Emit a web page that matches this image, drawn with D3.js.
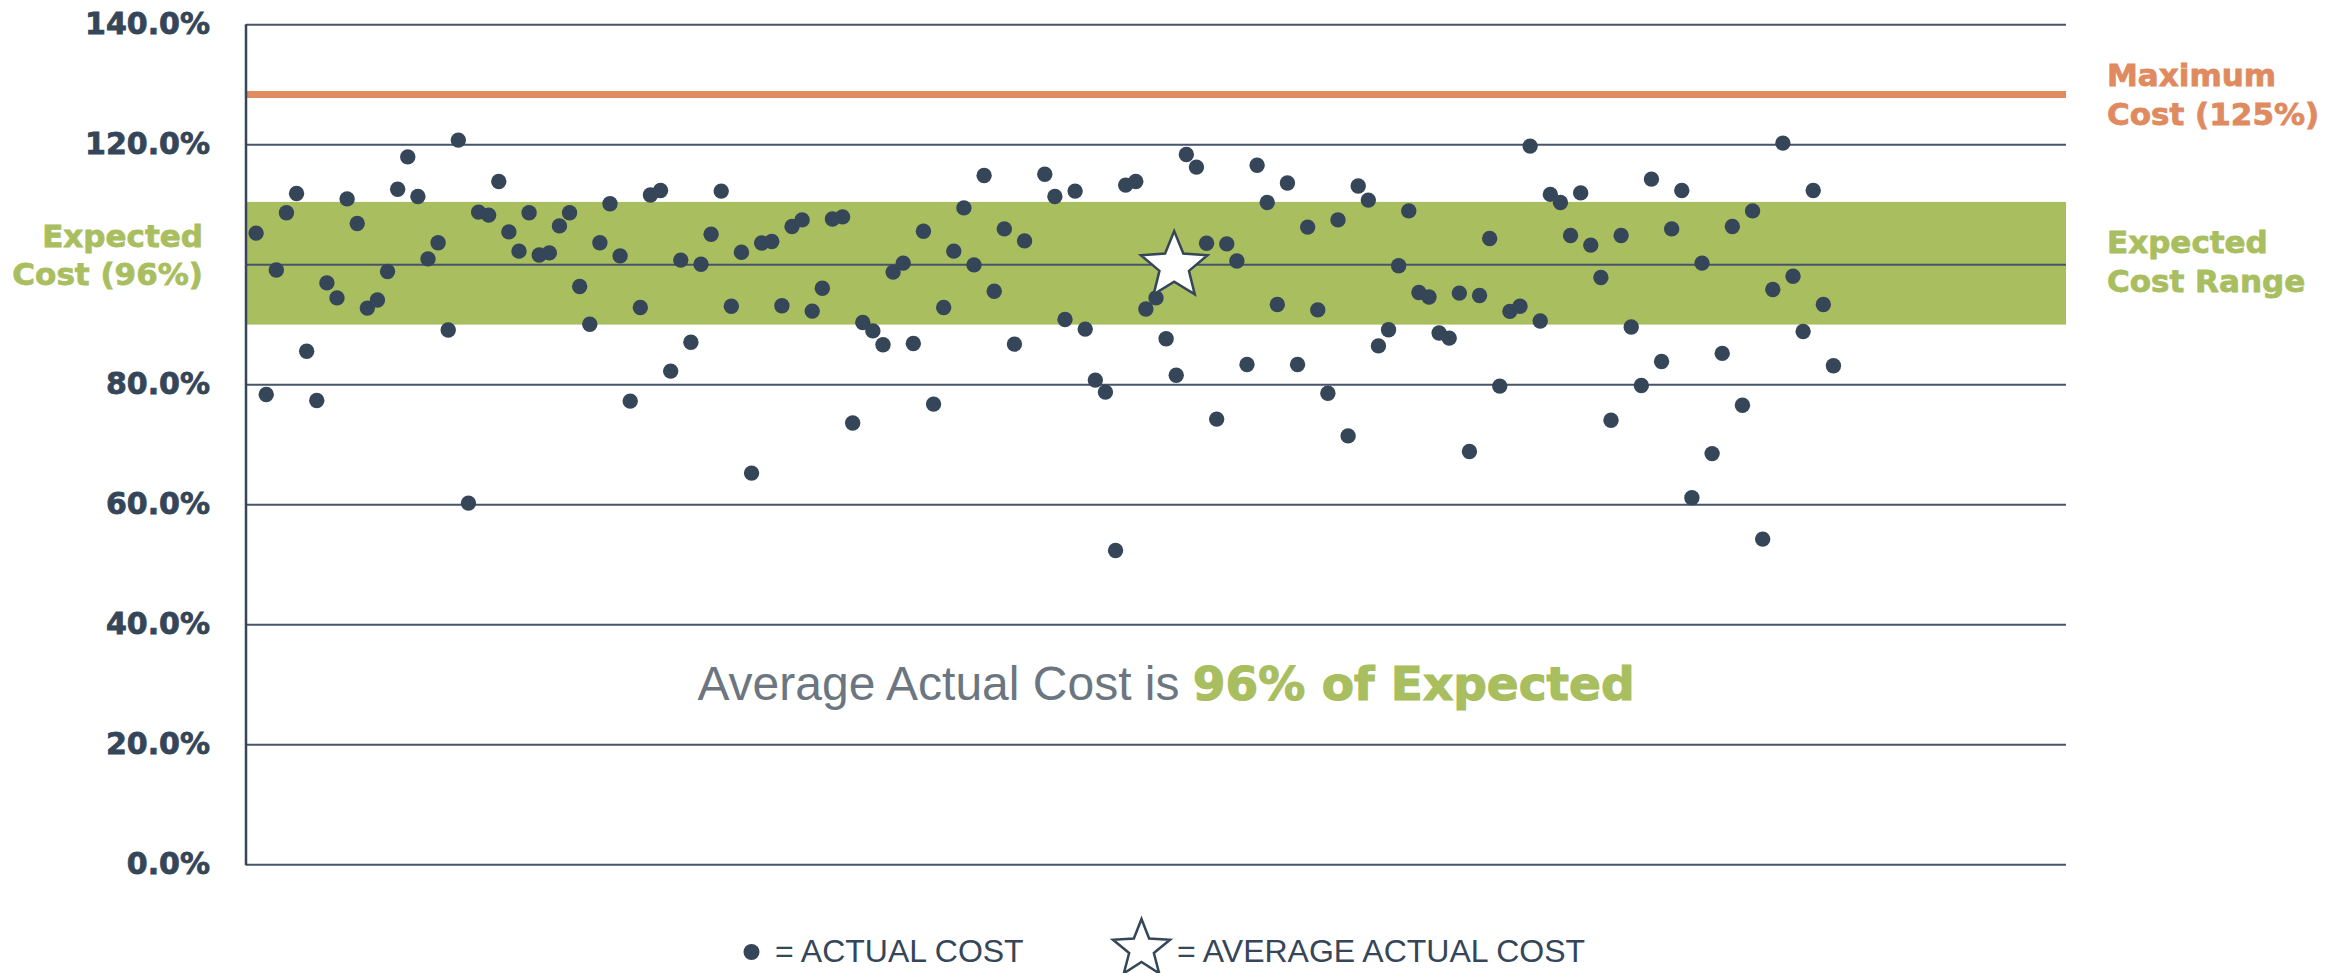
<!DOCTYPE html>
<html>
<head>
<meta charset="utf-8">
<script src="https://cdn.jsdelivr.net/npm/d3@7"></script>
<style>
	body { margin: 0; background: #fff; }
</style>
</head>
<body>
<div id="chart"></div>
<script>
const width = 2343, height = 973;

// actual cost as % of expected, one per project slot (null = empty slot)
const actualCost = [
	105.2, 78.3, 99.05, 108.6, 111.8, 85.5, 77.3, 96.9, 94.4, 110.9,
	106.8, 92.7, 94.05, 98.8, 112.5, 117.9, 111.3, 100.9, 103.6, 89.05,
	120.7, 60.2, 108.7, 108.2, 113.8, 105.4, 102.2, 108.6, 101.55, 101.9,
	106.4, 108.6, 96.3, 90.0, 103.6, 110.1, 101.4, 77.2, 92.8, 111.55,
	112.3, 82.2, 100.7, 87.0, 100.0, 105.0, 112.2, 93.0, 102.0, 65.2,
	103.55, 103.8, 93.1, 106.3, 107.4, 92.2, 96.0, 107.55, 107.9, 73.55,
	90.3, 88.9, 86.6, 98.7, 100.2, 86.8, 105.5, 76.7, 92.8, 102.2,
	109.4, 99.9, 114.8, 95.5, 105.9, 86.7, 103.9, null, 115.0, 111.3,
	90.8, 112.2, 89.2, 80.7, 78.7, 52.3, 113.2, 113.8, 92.55, 94.4,
	87.6, 81.5, 118.3, 116.2, 103.5, 74.2, 103.4, 100.55, 83.3, 116.5,
	110.3, 93.3, 113.55, 83.3, 106.2, 92.4, 78.5, 107.4, 71.4, 113.05,
	110.7, 86.4, 89.1, 99.75, 108.9, 95.3, 94.55, 88.55, 87.7, 95.2,
	68.8, 94.8, 104.3, 79.7, 92.15, 93.0, 119.7, 90.55, 111.65, 110.3,
	104.8, 111.9, 103.2, 97.8, 74.0, 104.8, 89.55, 79.8, 114.2, 83.8,
	105.9, 112.3, 61.1, 100.2, 68.45, 85.15, 106.3, 76.5, 108.9, 54.2,
	95.8, 120.2, 98.0, 88.8, 112.3, 93.3, 83.1
];
const gridValues = [0, 20, 40, 60, 80, 100, 120, 140];
const labelledTicks = [0, 20, 40, 60, 80, 120, 140];
const expectedRange = [89.95, 110.4];
const maxCostLevel = [128.3];
const averagePoint = [91.8, 99.7];
const xDomain = [0, 180];

const dark = "#364659", green = "#a9be5f", orange = "#e08a5f";
const boldFont = "'DejaVu Sans', sans-serif";
const plainFont = "'Liberation Sans', Arial, sans-serif";

const svg = d3.select("#chart")
	.append("svg")
	.attr("width", width)
	.attr("height", height);

const x = d3.scaleLinear().domain(xDomain).range([246, 2066]);
const y = d3.scaleLinear().domain([0, 140]).range([864.3, 24.3]);

const points = actualCost
	.map((v, i) => ({ x: i + 1, y: v }))
	.filter(d => d.y !== null);

// expected cost band
svg.append("rect")
	.attr("x", x(xDomain[0]))
	.attr("y", y(expectedRange[1]))
	.attr("width", x(xDomain[1]) - x(xDomain[0]))
	.attr("height", y(expectedRange[0]) - y(expectedRange[1]))
	.attr("fill", green);

// gridlines
const grid = svg.append("g")
	.attr("transform", `translate(${x(0)},0)`)
	.call(d3.axisLeft(y)
		.tickValues(gridValues)
		.tickSize(-(x(xDomain[1]) - x(xDomain[0])))
		.tickFormat(""));
grid.select(".domain").remove();
grid.selectAll("line")
	.attr("stroke", "#45556a")
	.attr("stroke-width", 2);

// tick labels (100% is replaced by the expected cost label)
const yAxis = svg.append("g")
	.attr("transform", `translate(${x(0)},0)`)
	.call(d3.axisLeft(y)
		.tickValues(labelledTicks)
		.tickSize(0)
		.tickPadding(36)
		.tickFormat(d => d.toFixed(1) + "%"));
yAxis.select(".domain").remove();
yAxis.selectAll("text")
	.attr("fill", dark)
	.attr("stroke", dark)
	.attr("stroke-width", 0.8)
	.attr("font-family", boldFont)
	.attr("font-weight", "bold")
	.attr("font-size", 30);

// maximum cost line
svg.selectAll(".maxline")
	.data(maxCostLevel)
	.enter()
	.append("line")
	.attr("x1", x(xDomain[0]))
	.attr("x2", x(xDomain[1]))
	.attr("y1", d => y(d))
	.attr("y2", d => y(d))
	.attr("stroke", orange)
	.attr("stroke-width", 7);

// left axis line
svg.append("line")
	.attr("x1", x(0)).attr("x2", x(0))
	.attr("y1", y(140)).attr("y2", y(0) + 1)
	.attr("stroke", dark)
	.attr("stroke-width", 2.5);

// dots
svg.selectAll(".dot")
	.data(points)
	.enter()
	.append("circle")
	.classed("dot", true)
	.attr("cx", d => x(d.x))
	.attr("cy", d => y(d.y))
	.attr("r", 7.7)
	.attr("fill", dark);

function starPath(R, r) {
	let pts = [];
	for (let k = 0; k < 10; k++) {
		let a = -Math.PI / 2 + k * Math.PI / 5;
		let rad = k % 2 === 0 ? R : r;
		pts.push([rad * Math.cos(a), rad * Math.sin(a)]);
	}
	return "M" + pts.map(p => p.join(",")).join("L") + "Z";
}

svg.append("path")
	.attr("d", starPath(35, 15.5))
	.attr("transform", `translate(${x(averagePoint[0])},${y(averagePoint[1])})`)
	.attr("fill", "#fff")
	.attr("stroke", dark)
	.attr("stroke-width", 2.5)
	.attr("stroke-linejoin", "miter");

// side labels
function label(lines, xPos, baselines, color, anchor) {
	const t = svg.append("text")
		.attr("font-family", boldFont)
		.attr("font-weight", "bold")
		.attr("font-size", 31)
		.attr("fill", color)
		.attr("stroke", color)
		.attr("stroke-width", 0.8)
		.attr("text-anchor", anchor);
	lines.forEach((s, i) => {
		t.append("tspan").attr("x", xPos).attr("y", baselines[i]).text(s);
	});
}
label(["Expected", "Cost (96%)"], 203, [247, 285], green, "end");
label(["Maximum", "Cost (125%)"], 2107, [86, 125], orange, "start");
label(["Expected", "Cost Range"], 2107, [253, 292], green, "start");

// headline
const head = svg.append("text")
	.attr("x", 1166)
	.attr("y", 700)
	.attr("text-anchor", "middle")
	.attr("font-size", 48);
head.append("tspan")
	.attr("font-family", plainFont)
	.attr("fill", "#6b7680")
	.text("Average Actual Cost is ");
head.append("tspan")
	.attr("font-family", boldFont)
	.attr("font-weight", "bold")
	.attr("font-size", 47)
	.attr("fill", green)
	.attr("stroke", green)
	.attr("stroke-width", 1.2)
	.text("96% of Expected");

// legend
svg.append("circle")
	.attr("cx", 751.5).attr("cy", 952)
	.attr("r", 8)
	.attr("fill", dark);
svg.append("text")
	.attr("x", 775).attr("y", 962)
	.attr("font-family", plainFont)
	.attr("font-size", 32)
	.attr("fill", dark)
	.text("= ACTUAL COST");

svg.append("path")
	.attr("d", starPath(30, 13))
	.attr("transform", "translate(1141.5,949)")
	.attr("fill", "#fff")
	.attr("stroke", dark)
	.attr("stroke-width", 2.5);
svg.append("text")
	.attr("x", 1177).attr("y", 962)
	.attr("font-family", plainFont)
	.attr("font-size", 32)
	.attr("fill", dark)
	.text("= AVERAGE ACTUAL COST");
</script>
</body>
</html>
